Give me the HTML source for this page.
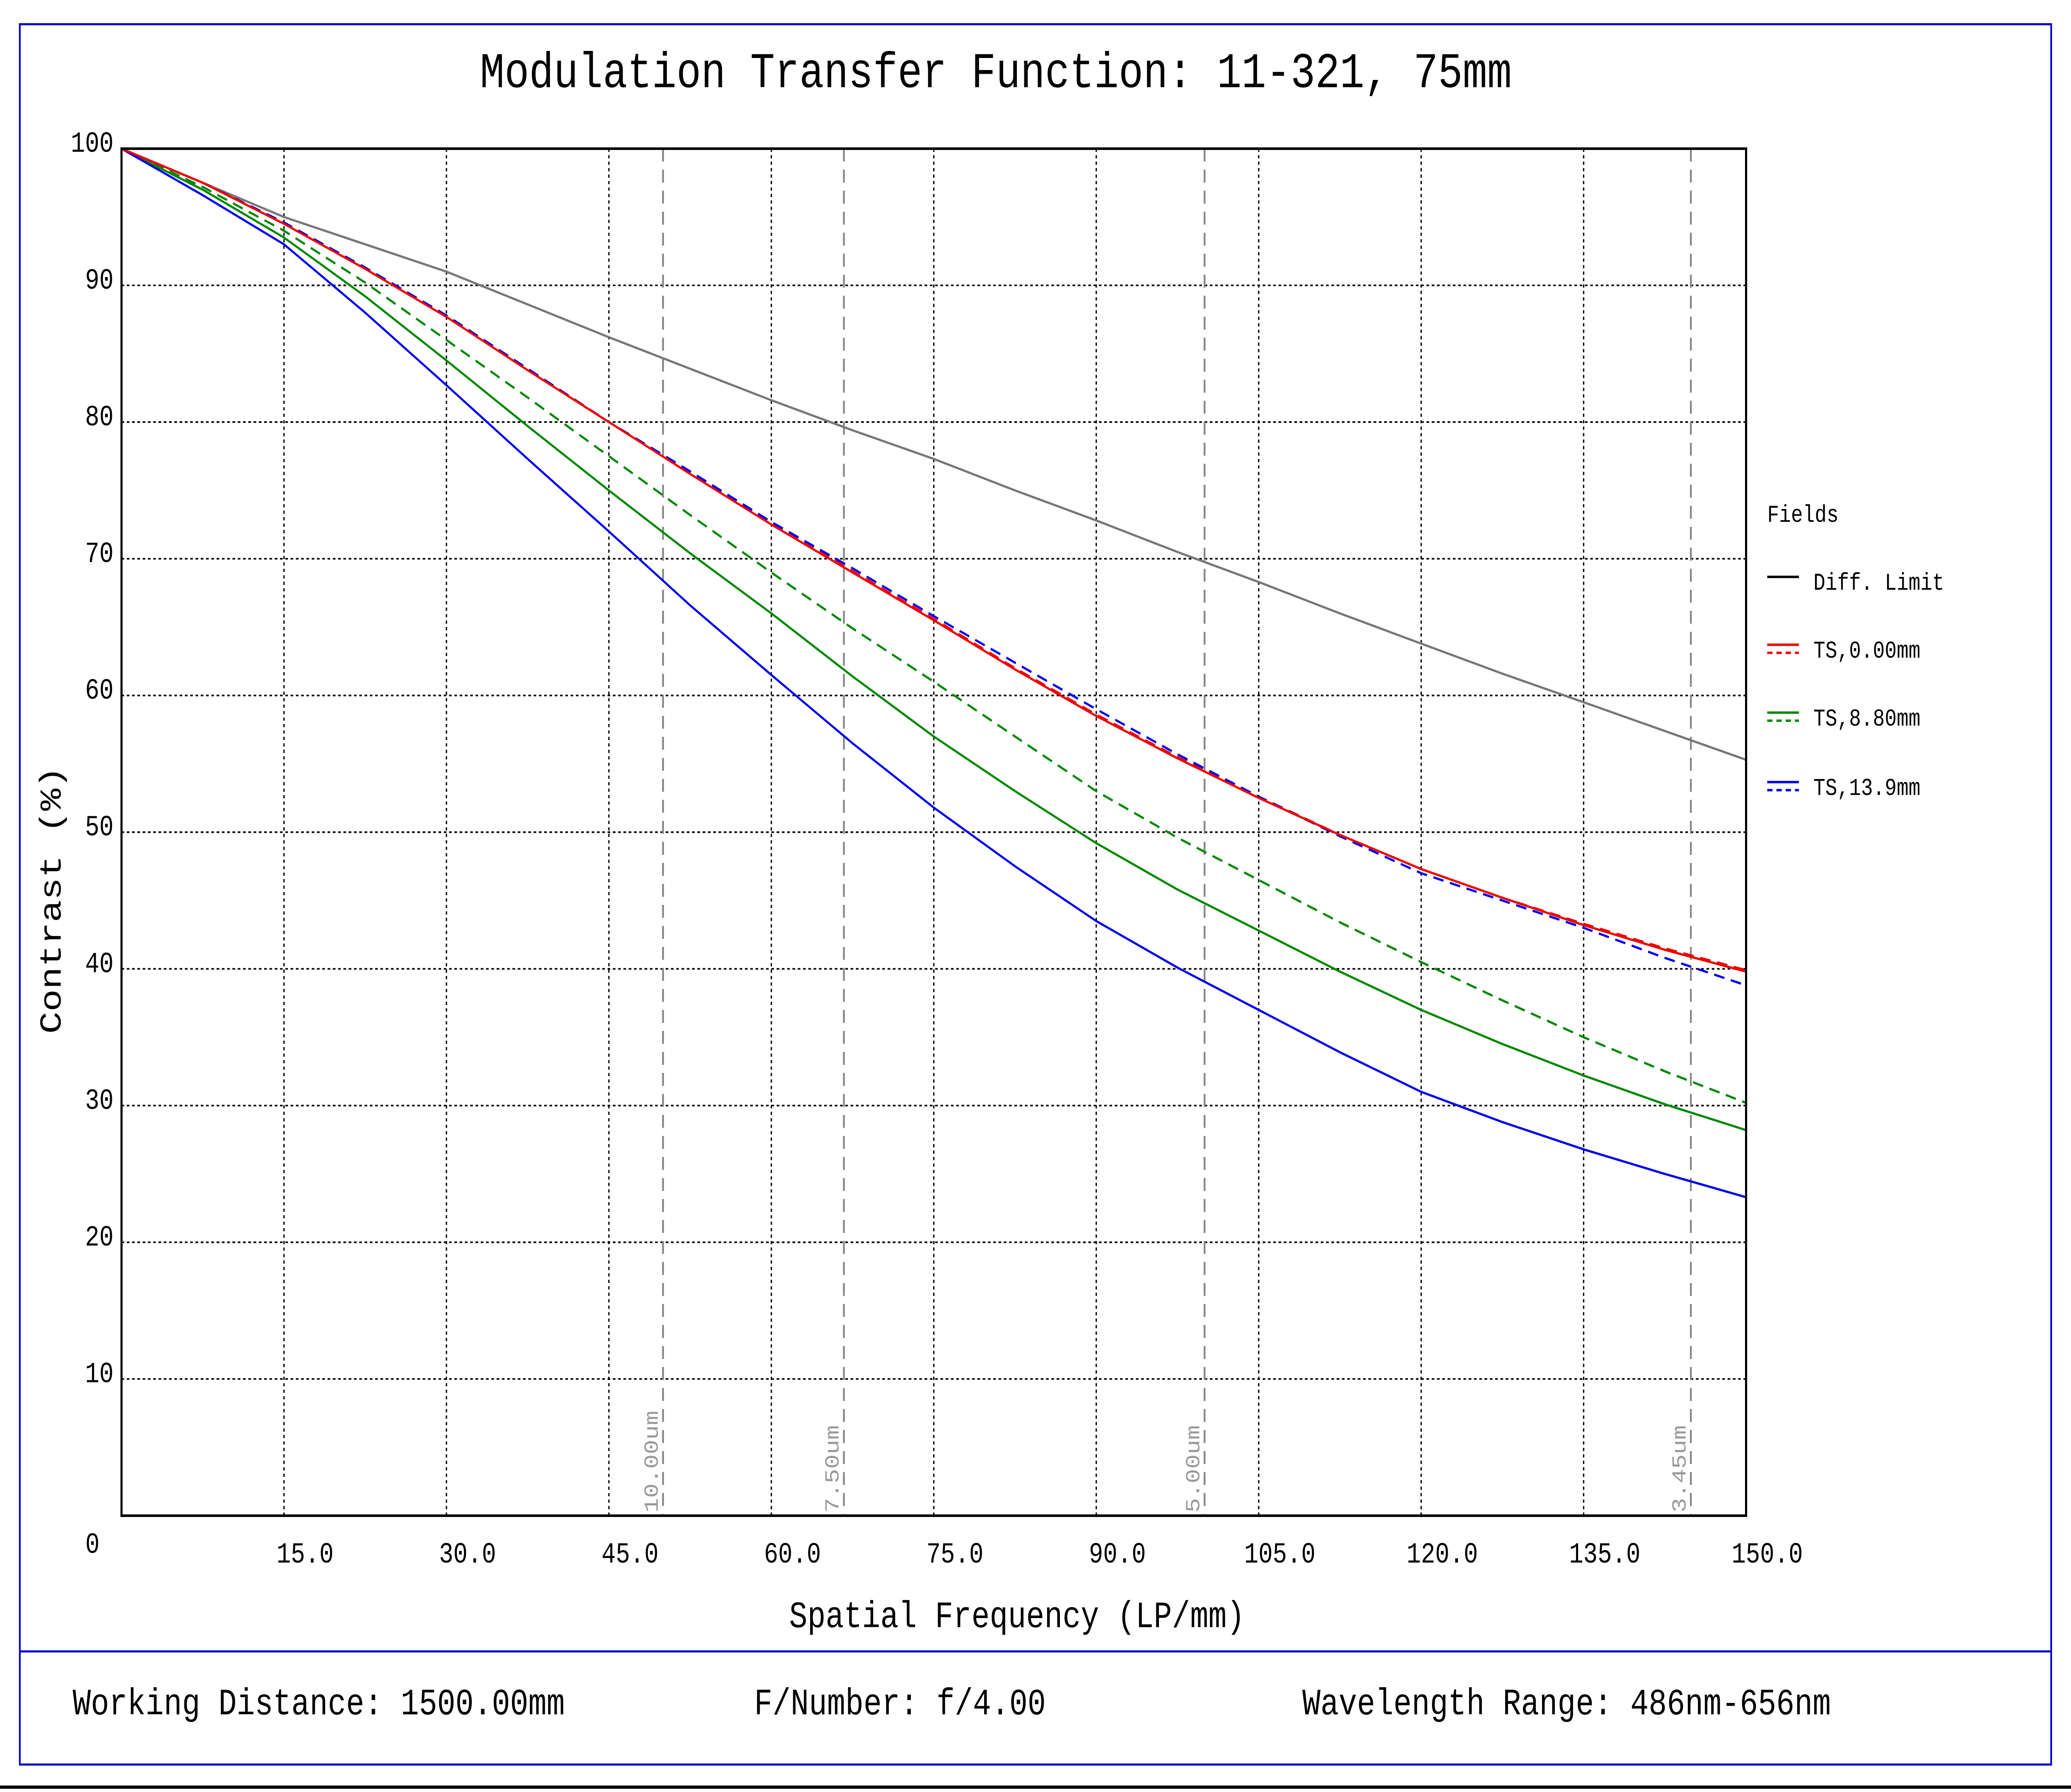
<!DOCTYPE html>
<html><head><meta charset="utf-8"><meta name="viewport" content="width=device-width,initial-scale=1"><style>
html,body{margin:0;padding:0;background:#fff;width:100%;height:100%;overflow:hidden}
svg{display:block;position:fixed;left:0;top:0;width:100vw;height:100vh}
text{font-family:"Liberation Mono",monospace}
</style></head><body>
<svg id="chart" viewBox="0 0 1568 1109" preserveAspectRatio="none" xmlns="http://www.w3.org/2000/svg">
<rect x="15" y="15" width="1538" height="1077" fill="none" stroke="#0000cc" stroke-width="1.3"/>
<line x1="15" y1="1022" x2="1553" y2="1022" stroke="#0000cc" stroke-width="1.3"/>
<line x1="0" y1="1106" x2="1568" y2="1106" stroke="#000" stroke-width="2"/>
<text x="754" y="54" font-size="31" text-anchor="middle">Modulation Transfer Function: 11-321, 75mm</text>
<g id="grid"></g>
<g id="marks"></g>
<rect x="92" y="92" width="1230" height="846" fill="none" stroke="#000" stroke-width="1.6"/>
<text x="770" y="1007" font-size="23" text-anchor="middle">Spatial Frequency (LP/mm)</text>
<text x="0" y="0" font-size="23" text-anchor="middle" transform="translate(46,557) rotate(-90)">Contrast (%)</text>
<g font-size="15">
<text x="1338" y="323">Fields</text>
<line x1="1338" y1="357" x2="1362" y2="357" stroke="#000" stroke-width="1.5"/>
<text x="1373" y="365">Diff. Limit</text>
<line x1="1338" y1="399" x2="1362" y2="399" stroke="#e00" stroke-width="1.5"/>
<line x1="1338" y1="404" x2="1362" y2="404" stroke="#e00" stroke-width="1.5" stroke-dasharray="4,3"/>
<text x="1373" y="407">TS,0.00mm</text>
<line x1="1338" y1="441" x2="1362" y2="441" stroke="#080" stroke-width="1.5"/>
<line x1="1338" y1="446" x2="1362" y2="446" stroke="#080" stroke-width="1.5" stroke-dasharray="4,3"/>
<text x="1373" y="449">TS,8.80mm</text>
<line x1="1338" y1="484" x2="1362" y2="484" stroke="#00e" stroke-width="1.5"/>
<line x1="1338" y1="489" x2="1362" y2="489" stroke="#00e" stroke-width="1.5" stroke-dasharray="4,3"/>
<text x="1373" y="492">TS,13.9mm</text>
</g>
<g font-size="23">
<text x="55" y="1061">Working Distance: 1500.00mm</text>
<text x="571" y="1061">F/Number: f/4.00</text>
<text x="986" y="1061">Wavelength Range: 486nm-656nm</text>
</g>
</svg>
<script>
const xTicks=[15,30,45,60,75,90,105,120,135,150];
const yTicks=[10,20,30,40,50,60,70,80,90,100];
const pixelFreqs=[50,66.7,100,144.9];
const pixelLabels=["10.00um","7.50um","5.00um","3.45um"];
const freqs=[0,7.5,15,22.5,30,37.5,45,52.5,60,67.5,75,82.5,90,97.5,105,112.5,120,127.5,135,142.5,150];
const diffLimit=[100,97.5,95,93,91,88.6,86.2,83.9,81.6,79.4,77.3,75,72.8,70.5,68.3,66,63.8,61.6,59.5,57.4,55.3];
const red0S=[100,97.5,94.5,91.2,87.7,83.8,80,76.2,72.5,69,65.5,61.9,58.5,55.4,52.5,49.8,47.3,45.2,43.2,41.4,39.8];
const red0T=[100,97.5,94.6,91.3,87.8,83.9,80,76.3,72.6,69.1,65.6,62,58.6,55.5,52.6,49.8,47.3,45.2,43.3,41.5,39.9];
const green8S=[100,97,93.5,89.2,84.5,79.7,75,70.4,66,61.4,57,53,49.2,45.8,42.8,39.8,37,34.5,32.2,30.1,28.2];
const green8T=[100,97.2,94,90.2,86,81.8,77.5,73.2,69,64.9,61,57,53,49.6,46.5,43.4,40.5,37.7,35,32.5,30.2];
const blue13S=[100,96.6,93,88,82.7,77.3,72,66.6,61.5,56.5,51.8,47.5,43.5,40.1,37,33.9,31,28.8,26.8,25,23.3];
const blue13T=[100,97.5,94.6,91.3,87.8,83.9,80,76.4,72.7,69.3,65.8,62.4,59,55.7,52.6,49.7,47,45,43,40.8,38.8];
const NS="http://www.w3.org/2000/svg";
const X=v=>92+v*(1230/150), Y=v=>938-v*(846/100);
const grid=document.getElementById('grid'), marks=document.getElementById('marks');
function mk(tag,attrs,parent){const e=document.createElementNS(NS,tag);for(const k in attrs)e.setAttribute(k,attrs[k]);parent.appendChild(e);return e;}
xTicks.forEach(t=>{
  if(t<150){const l=mk('line',{x1:X(t),y1:92,x2:X(t),y2:938,stroke:'#000','stroke-width':1,'stroke-dasharray':'2,2'},grid);
  
  }
  const tx=mk('text',{x:X(t)+16,y:967,'font-size':18,'text-anchor':'middle'},grid);tx.textContent=t.toFixed(1);
  
  
});
const z=mk('text',{x:70,y:961,'font-size':18,'text-anchor':'middle'},grid);z.textContent='0';


yTicks.forEach(t=>{
  if(t<100){const l=mk('line',{x1:92,y1:Y(t),x2:1322,y2:Y(t),stroke:'#000','stroke-width':1,'stroke-dasharray':'2,2'},grid);
  
  }
  const tx=mk('text',{x:86,y:Y(t)+2,'font-size':18,'text-anchor':'end'},grid);tx.textContent=t;
  
  
});
pixelFreqs.forEach((f,i)=>{
  const l=mk('line',{x1:X(f),y1:92,x2:X(f),y2:938,stroke:'#888','stroke-width':1.4,'stroke-dasharray':'8,5'},grid);
  
  
  const tx=mk('text',{x:0,y:0,'font-size':15,fill:'#999','text-anchor':'start',transform:`translate(${X(f)-4},${936}) rotate(-90)`},grid);tx.textContent=pixelLabels[i];
  
  
});
function series(vals,color,dash,name){
  const pts=vals.map((v,i)=>X(freqs[i]).toFixed(1)+','+Y(v).toFixed(1)).join(' ');
  const p=mk('polyline',{points:pts,fill:'none',stroke:color,'stroke-width':1.4,'stroke-linejoin':'round'},marks);
  if(dash)p.setAttribute('stroke-dasharray','8,5');
  
  
}
series(diffLimit,'#777',false,'diff-limit-line');
series(green8T,'#080',true,'ts-8-8-tangential-line');
series(green8S,'#080',false,'ts-8-8-sagittal-line');
series(blue13S,'#00e',false,'ts-13-9-sagittal-line');
series(red0T,'#e00',true,'ts-0-tangential-line');
series(blue13T,'#00e',true,'ts-13-9-tangential-line');
series(red0S,'#e00',false,'ts-0-sagittal-line');
</script>
</body></html>
